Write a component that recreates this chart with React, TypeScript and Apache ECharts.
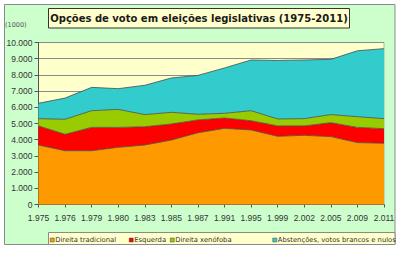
import React, { useEffect, useRef } from "react";
import * as echarts from "echarts";

// Election years (category axis)
const years = ["1975", "1976", "1979", "1980", "1983", "1985", "1987", "1991", "1995", "1999", "2002", "2005", "2009", "2011"];

// Votes in thousands, stacked from the bottom
const direitaTradicional = [3670, 3320, 3320, 3530, 3670, 3980, 4430, 4700, 4600, 4210, 4270, 4190, 3820, 3780];
const esquerda = [1180, 1010, 1440, 1230, 1130, 990, 790, 640, 570, 640, 580, 860, 940, 900];
const direitaXenofoba = [450, 930, 1030, 1110, 750, 720, 350, 290, 620, 430, 450, 500, 660, 620];
const abstencoes = [950, 1310, 1440, 1280, 1810, 2120, 2400, 2800, 3130, 3610, 3620, 3410, 4070, 4320];

const seriesNames = [
  "Direita tradicional",
  "Esquerda",
  "Direita xenófoba",
  "Abstenções, votos brancos e nulos",
];
const seriesColors = ["#ff9900", "#ff0000", "#99cc00", "#33cccc"];
const seriesData = [direitaTradicional, esquerda, direitaXenofoba, abstencoes];

const titleText = "Opções de voto em eleições legislativas (1975-2011)";
const unitText = "(1000)";

const withDots = (v: number | string) =>
  String(v).replace(/\B(?=(\d{3})+(?!\d))/g, ".");

export default function App() {
  const ref = useRef<HTMLDivElement>(null);

  useEffect(() => {
    if (!ref.current) return;
    const chart = echarts.init(ref.current, null, { renderer: "svg" });

    // one legend block per entry so each can sit at its own x
    const legendLefts = [50, 129, 170, 272.5];

    chart.setOption({
      animation: false,
      backgroundColor: "#ffffff",
      graphic: [
        {
          type: "rect",
          z: -10,
          shape: { x: 4.5, y: 4.5, width: 390.5, height: 240 },
          style: { fill: "#ccffcc", stroke: "#8a8a8a", lineWidth: 1 },
        },
        {
          type: "rect",
          z: 5,
          shape: { x: 48.5, y: 8.5, width: 301, height: 19.5 },
          style: { fill: "#ffffcc", stroke: "#333333", lineWidth: 1 },
        },
        {
          type: "text",
          z: 6,
          x: 199,
          y: 18.5,
          style: {
            text: titleText,
            fill: "#1a1a1a",
            font: "bold 10px 'DejaVu Sans'",
            align: "center",
            verticalAlign: "middle",
          },
        },
        {
          type: "text",
          z: 6,
          x: 5,
          y: 25,
          style: {
            text: unitText,
            fill: "#555555",
            font: "6.5px 'DejaVu Sans'",
            align: "left",
            verticalAlign: "middle",
          },
        },
        {
          type: "rect",
          z: 5,
          shape: { x: 48.5, y: 232.5, width: 346.5, height: 12 },
          style: { fill: "#ffffcc", stroke: "#8a8a8a", lineWidth: 1 },
        },
      ],
      legend: seriesNames.map((name, i) => ({
        data: [{ name, icon: "rect", itemStyle: { color: seriesColors[i], borderColor: "#444444", borderWidth: 0.5 } }],
        left: legendLefts[i],
        top: 236.5,
        padding: 0,
        itemWidth: 4,
        itemHeight: 4,
        itemGap: 0,
        z: 10,
        textStyle: {
          fontFamily: "DejaVu Sans",
          fontSize: 6.8,
          color: "#333333",
          padding: [0, 0, 0, -4],
        },
      })),
      grid: {
        left: 38.5,
        top: 42.5,
        width: 345.5,
        height: 162,
        show: true,
        backgroundColor: "#ffffcc",
        borderColor: "#b0b0b0",
        borderWidth: 1,
      },
      xAxis: {
        type: "category",
        data: years,
        boundaryGap: false,
        axisLine: { show: true, lineStyle: { color: "#555555", width: 1 } },
        axisTick: { show: true, length: 3, lineStyle: { color: "#555555" } },
        axisLabel: {
          formatter: (v: string) => withDots(v),
          fontFamily: "Liberation Sans",
          fontSize: 8.5,
          color: "#333333",
          margin: 9,
          interval: 0,
        },
        splitLine: { show: false },
      },
      yAxis: {
        type: "value",
        min: 0,
        max: 10000,
        interval: 1000,
        axisLine: { show: true, lineStyle: { color: "#555555", width: 1 } },
        axisTick: { show: true, length: 4, lineStyle: { color: "#555555" } },
        axisLabel: {
          formatter: (v: number) => withDots(v),
          fontFamily: "Liberation Sans",
          fontSize: 8.5,
          color: "#333333",
          margin: 6,
        },
        splitLine: { show: true, lineStyle: { color: "#8a8a8a", width: 1 } },
      },
      series: seriesNames.map((name, i) => ({
        name,
        type: "line",
        stack: "votos",
        data: seriesData[i],
        symbol: "none",
        smooth: false,
        color: seriesColors[i],
        lineStyle: { color: "#4a4a4a", width: 0.8 },
        areaStyle: { color: seriesColors[i], opacity: 1 },
        z: 2,
      })),
    });

    return () => chart.dispose();
  }, []);

  return (
    <div
      ref={ref}
      style={{ position: "fixed", left: 0, top: 0, width: 400, height: 257 }}
    />
  );
}
